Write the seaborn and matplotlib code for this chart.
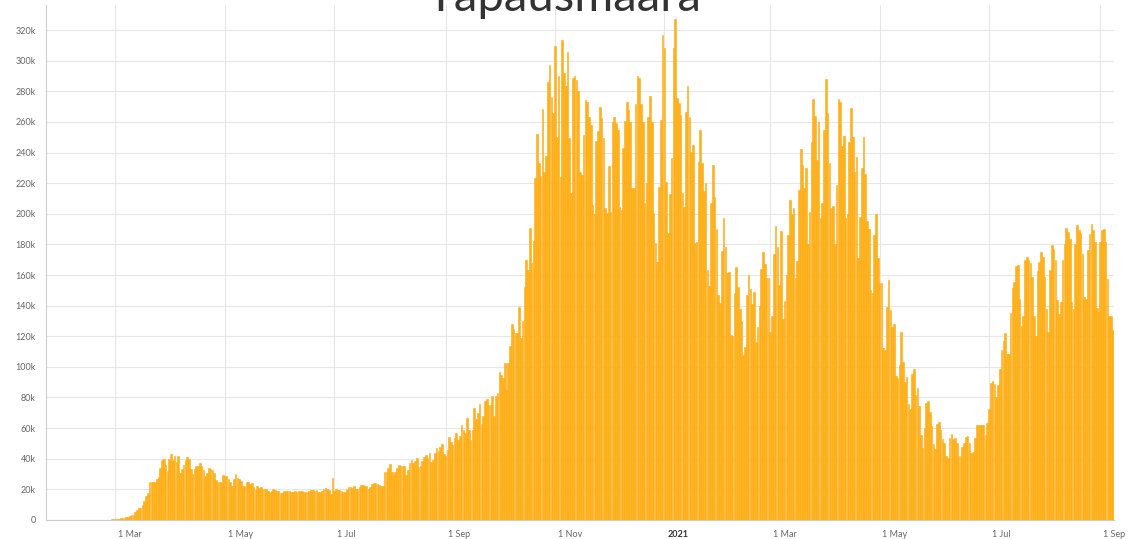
import numpy as np
import pandas as pd
import matplotlib
matplotlib.use("Agg")
import matplotlib.pyplot as plt
import matplotlib.transforms as mtransforms
import seaborn as sns

# uudet tapaukset päivittäin (tuhansina), 23.1.2020 - 8.9.2021
jan_2020 = [0.0, 0.0, 0.002, 0.0, 0.0, 0.001, 0.001, 0.002, 0.002]
feb_2020 = [0.0, 0.001, 0.0, 0.0, 0.002, 0.001, 0.0, 0.0, 0.0, 0.001, 0.0, 0.001, 0.002, 0.005,
            0.01, 0.02, 0.03, 0.04, 0.05, 0.06, 0.08, 0.1, 0.1, 0.15, 0.2, 0.25, 0.3, 0.4, 0.45]
mar_2020 = [0.5, 0.6, 0.9, 1.0, 1.2, 1.6, 1.9, 2.2, 2.8, 3.0, 3.5, 5.5, 6.5, 7.5,
            8.0, 9.5, 12.5, 15.5, 17.5, 24.5, 25.0, 25.0, 25.0, 27.0, 28.0, 34.0, 39.0, 40.0,
            36, 32, 40]
apr_2020 = [43, 39, 42, 38, 42, 31, 33, 36, 39, 41, 40, 33, 30, 33, 35, 35, 37.5, 35,
            32.5, 28.7, 31, 34, 33, 32.5, 31, 26, 24.7, 24.7, 24.7, 29.5]
may_2020 = [29, 28.5, 26.5, 25, 22.5, 27, 30, 27.5, 27, 25.5, 22, 22.5, 25, 24.5, 23.5, 24,
            21.5, 19.5, 22, 21, 21.5, 20.5, 20, 20, 19, 18, 19, 20, 19.5, 19, 19]
jun_2020 = [17.5, 17.5, 19, 19, 19, 19, 18.5, 18, 19, 18.5, 19, 18.6, 19.2, 18.5, 18.3,
            18.5, 19, 19.7, 19.3, 18.8, 19.5, 18, 18.5, 19, 20, 20.8, 20, 19.3, 17, 27.3]
jul_2020 = [19, 20, 19.5, 19.5, 19, 18.3, 18.3, 20.5, 21.4, 21.4, 21.2, 21.9, 20.5, 20.3,
            21.4, 23, 23, 22, 21.9, 20.5, 21.5, 23.6, 24, 24, 23.6, 23, 22, 22.5, 31.3, 31.5, 34]
aug_2020 = [36.5, 31.5, 29.5, 31.5, 33.9, 36, 35.3, 35, 35, 29.5, 32.5, 37.2, 39, 37.5,
            38.5, 40.2, 34.5, 35, 38.3, 41, 42.6, 40.5, 44, 37.6, 39, 44, 47, 45, 47.5, 49.8, 43]
sep_2020 = [42, 46, 54.2, 51, 49, 53.5, 57, 52, 55, 62, 59, 57, 66.7, 59, 52.5, 59, 73, 66,
            70, 76, 63, 68, 78, 79, 75, 75.4, 81.3, 68.2, 81, 83]
oct_2020 = [96.9, 95, 92.5, 102.3, 84.9, 102.3, 113.6, 127.8, 125, 122.3, 122.3, 139.3, 118.6,
            130, 152.4, 169.8, 163.3, 190.9, 167.6, 182.2, 223.1, 251.8, 232.9, 224.6, 268.2,
            227, 238, 285.8, 297.1, 276.4, 266]
nov_2020 = [309.5, 250.3, 290, 224.2, 313.4, 291.7, 283.6, 305.8, 249.2, 213.3, 288.4, 290,
            287.3, 280.2, 227, 225.3, 251.4, 274.3, 273.2, 263.4, 258, 205.7, 199.6, 247.5,
            254, 269.9, 262.3, 249.2, 203.5, 200.3]
dec_2020 = [231.2, 201.4, 260.1, 263.4, 259, 254.7, 204.6, 202.4, 242.7, 260.6, 272.7, 267.7,
            260.1, 216.6, 216.6, 271.4, 289.7, 289, 271.7, 259.7, 206.8, 219.8, 263.4, 276.9,
            259.7, 200.3, 181.1, 168.7, 217.7, 261.2, 316.7]
jan_2021 = [308.4, 220.9, 187.2, 212.7, 236.6, 308, 327.2, 275.8, 272.1, 264.5, 213.3, 204.6,
            266.7, 283.4, 263.4, 240.5, 244.9, 180.7, 181.8, 234, 255, 233, 215, 220, 163, 153,
            207, 232, 211, 190, 147]
feb_2021 = [142, 176, 197, 178, 161, 162, 121, 120, 148, 165, 152, 138, 130, 108, 113, 147,
            160, 151, 141, 149, 116.5, 126, 140, 164, 175, 167, 158, 158]
mar_2021 = [123, 133, 174, 192, 178.5, 153.5, 189, 131, 143, 160, 186, 209, 200, 203.5, 158,
            169, 215.5, 242, 232, 217, 230, 180, 201, 247, 275, 264, 235, 260, 197, 207, 255]
apr_2021 = [288, 266, 233, 204, 205, 180, 219, 275, 273, 244, 251, 197, 200, 247, 269, 250,
            227, 237, 171, 198, 230, 250, 226, 195, 190, 150, 148, 186, 200, 171]
may_2021 = [155, 155, 112.5, 111, 139, 157, 137, 126, 128, 94, 92.5, 101, 122.8, 103.3, 90.2,
            93.5, 75.7, 72.2, 95.2, 98.9, 81.5, 86.5, 74.3, 55.4, 46.7, 60.4, 76.5, 77.8, 70.7,
            61.3, 49.6]
jun_2021 = [46.1, 63, 64.1, 58.7, 52.6, 50, 41.7, 40.2, 53.3, 56.1, 52.6, 53.3, 50, 41.7, 41.7,
            47.8, 50.4, 54.3, 54.8, 50.4, 43.9, 44.6, 53.3, 62, 62, 62, 62, 62, 55.4, 63.5]
jul_2021 = [72.8, 89.6, 90.9, 88.7, 80, 88, 98.9, 110.9, 117, 122.2, 108.3, 108.3, 135.2,
            151.7, 155.4, 165.7, 166.3, 144.6, 126.5, 133, 169.6, 171.7, 170, 167.8, 158.7,
            133, 120, 162.6, 168.5, 175, 171.7]
aug_2021 = [158.7, 138, 122.8, 163.5, 179.3, 177.2, 169.6, 143.5, 134.8, 142.4, 169.6, 180.4,
            190.7, 188, 183.7, 142.4, 138, 180.4, 192.4, 189.1, 187.4, 173.5, 145.7, 144.6,
            176.1, 187, 193.5, 189.1, 181.5, 138.3, 135.9]
sep_2021 = [181.5, 189.6, 190.2, 181.5, 157.6, 133, 133, 123.9]

start_date = "2020-01-23"
tick_dates = ["2020-03-01", "2020-05-01", "2020-07-01", "2020-09-01", "2020-11-01",
              "2021-01-01", "2021-03-01", "2021-05-01", "2021-07-01", "2021-09-01"]
tick_labels = ["1 Mar", "1 May", "1 Jul", "1 Sep", "1 Nov", "2021", "1 Mar", "1 May", "1 Jul", "1 Sep"]
y_ticks = list(range(0, 320001, 20000))
title = "Tapausmäärä"

cases_k = (jan_2020 + feb_2020 + mar_2020 + apr_2020 + may_2020 + jun_2020 + jul_2020 + aug_2020
           + sep_2020 + oct_2020 + nov_2020 + dec_2020 + jan_2021 + feb_2021 + mar_2021
           + apr_2021 + may_2021 + jun_2021 + jul_2021 + aug_2021 + sep_2021)

dates = pd.date_range(start_date, periods=len(cases_k), freq="D")
origin = dates[0] - pd.Timedelta(days=1)
df = pd.DataFrame({"day": (dates - origin).days, "cases": np.array(cases_k) * 1000})
tick_pos = (pd.to_datetime(tick_dates) - origin).days

sns.set_style("white")
plt.rcParams["font.family"] = ["Lato", "DejaVu Sans"]

fig = plt.figure(figsize=(11.45, 5.39), dpi=100)
ax = fig.add_axes([0.0405, 0.0353, 0.9322, 0.9555])

sns.barplot(data=df, x="day", y="cases", native_scale=True, color="#FFB41F", saturation=1,
            width=0.9, edgecolor="#FCAA12", linewidth=0.4, errorbar=None, ax=ax)

ax.set_xlim(0.5, len(cases_k) + 0.5)
ax.set_ylim(0, 336400)
ax.set_xlabel("")
ax.set_ylabel("")

ax.set_axisbelow(True)
ax.grid(True, color="#e6e6e6", linewidth=0.8)

ax.set_yticks(y_ticks)
ax.set_yticklabels(["0" if v == 0 else f"{v // 1000}k" for v in y_ticks])
ax.set_xticks(tick_pos)
ax.set_xticklabels(tick_labels)

ax.tick_params(axis="both", colors="#cccccc", labelcolor="#666666", labelsize=6.5,
               length=3.5, width=0.8)
ax.tick_params(axis="y", pad=4)
ax.tick_params(axis="x", pad=4)

offset = mtransforms.ScaledTranslation(2 / 72, 0, fig.dpi_scale_trans)
for lab in ax.get_xticklabels():
    lab.set_horizontalalignment("left")
    lab.set_transform(lab.get_transform() + offset)
bold = ax.get_xticklabels()[5]
bold.set_fontweight("bold")
bold.set_color("#333333")

for side in ["top", "right"]:
    ax.spines[side].set_visible(False)
ax.spines["left"].set_color("#cccccc")
ax.spines["bottom"].set_color("#cccccc")
ax.spines["left"].set_linewidth(0.8)
ax.spines["bottom"].set_linewidth(0.8)

# otsikko jää osittain kuvan yläreunan yli kuten alkuperäisessä
fig.text(0.492, 1 - 11 / 539, title, ha="center", va="baseline", fontsize=34,
         color="#333333")

fig.savefig("out.png", dpi=100)
